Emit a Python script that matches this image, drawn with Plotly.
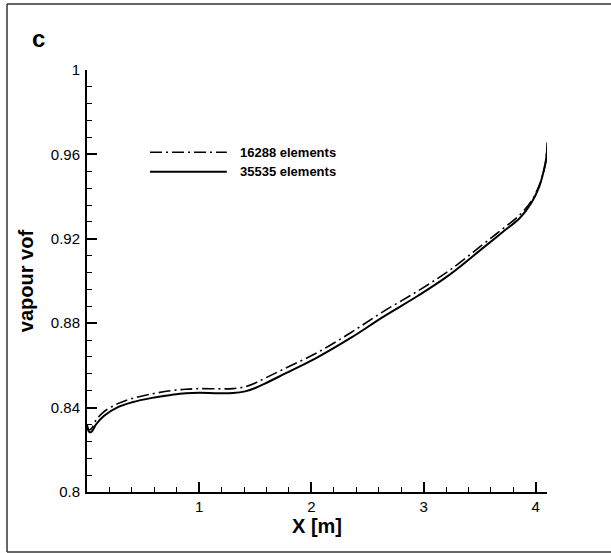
import plotly.graph_objects as go

# grid 35535 elements (solid) and 16288 elements (dash-dot)
x_fine = [0.0, 0.02, 0.04, 0.08, 0.15, 0.28, 0.40, 0.58, 0.75, 0.88, 1.00, 1.17, 1.30, 1.41,
          1.50, 1.59, 1.75, 2.05, 2.35, 2.64, 2.95, 3.23, 3.53, 3.70, 3.86, 3.96, 4.03, 4.07,
          4.09, 4.105]
vof_fine = [0.831, 0.8285, 0.8285, 0.832, 0.836, 0.8403, 0.8425, 0.8446, 0.846, 0.8468, 0.847,
            0.8468, 0.8469, 0.8477, 0.8493, 0.8515, 0.8557, 0.8637, 0.873, 0.883, 0.893, 0.9029,
            0.9157, 0.923, 0.930, 0.937, 0.9446, 0.952, 0.957, 0.9655]

x_coarse = x_fine
vof_coarse = [0.832, 0.8295, 0.830, 0.834, 0.838, 0.842, 0.8443, 0.8465, 0.848, 0.8487, 0.849,
              0.8489, 0.849, 0.8499, 0.8517, 0.854, 0.8582, 0.866, 0.8755, 0.8855, 0.8953, 0.905,
              0.9174, 0.9245, 0.9315, 0.9378, 0.9452, 0.952, 0.957, 0.966]

legend_labels = ["16288 elements", "35535 elements"]
y_ticks = [0.8, 0.84, 0.88, 0.92, 0.96, 1.0]
y_ticktext = ["0.8", "0.84", "0.88", "0.92", "0.96", "1"]
x_ticks = [1, 2, 3, 4]

dashdot = "12px,4px,2px,4px"

fig = go.Figure()
fig.add_trace(go.Scatter(x=x_coarse, y=vof_coarse, mode="lines", name=legend_labels[0],
                         line=dict(color="black", width=1.6, dash=dashdot, shape="spline"),
                         showlegend=False))
fig.add_trace(go.Scatter(x=x_fine, y=vof_fine, mode="lines", name=legend_labels[1],
                         line=dict(color="black", width=2, shape="spline"),
                         showlegend=False))

font = "Liberation Sans, Arial, sans-serif"
axis_common = dict(showline=True, linecolor="black", linewidth=2, ticks="inside",
                   tickcolor="black", tickwidth=2, ticklen=10, showgrid=False,
                   zeroline=False, tickfont=dict(family=font, size=15, color="black"))

fig.update_xaxes(range=[0, 4.1], tickvals=x_ticks,
                 title=dict(text="<b>X [m]</b>", font=dict(family=font, size=20, color="black"),
                            standoff=0),
                 minor=dict(ticks="inside", ticklen=5, tickwidth=1, tickcolor="black",
                            tick0=0, dtick=0.2),
                 **axis_common)
fig.update_yaxes(range=[0.8, 1.0], tickvals=y_ticks, ticktext=y_ticktext,
                 ticklabelstandoff=2,
                 title=dict(text="<b>vapour vof</b>", font=dict(family=font, size=20, color="black"),
                            standoff=12),
                 minor=dict(ticks="inside", ticklen=5, tickwidth=1, tickcolor="black",
                            tick0=0.8, dtick=0.008),
                 **axis_common)

# legend drawn by hand (long line samples)
fig.add_shape(type="line", xref="paper", yref="paper", x0=0.137, x1=0.304, y0=0.805, y1=0.805,
              line=dict(color="black", width=1.6, dash=dashdot))
fig.add_shape(type="line", xref="paper", yref="paper", x0=0.137, x1=0.304, y0=0.759, y1=0.759,
              line=dict(color="black", width=2))
for yy, lab in zip([0.805, 0.759], legend_labels):
    fig.add_annotation(x=0.328, y=yy, xref="paper", yref="paper", text="<b>%s</b>" % lab,
                       showarrow=False, xanchor="left", yanchor="middle",
                       font=dict(family=font, size=13, color="black"))

# panel letter and open frame (left, top, bottom)
fig.add_annotation(x=-0.1065, y=1.0735, xref="paper", yref="paper", text="<b>c</b>",
                   showarrow=False, xanchor="center", yanchor="middle",
                   font=dict(family=font, size=24, color="black"))
frame = dict(color="#333333", width=1.5)
fig.add_shape(type="line", xref="paper", yref="paper", x0=-0.1739, x1=-0.1739,
              y0=-0.1422, y1=1.1564, line=frame)
fig.add_shape(type="line", xref="paper", yref="paper", x0=-0.1739, x1=1.2,
              y0=1.1564, y1=1.1564, line=frame)
fig.add_shape(type="line", xref="paper", yref="paper", x0=-0.1739, x1=1.2,
              y0=-0.1422, y1=-0.1422, line=frame)

fig.update_layout(width=611, height=553, plot_bgcolor="white", paper_bgcolor="white",
                  margin=dict(l=87, r=64, t=70, b=61), showlegend=False)

# drop the default body margin so the figure fills the window exactly
fig.write_html("out.html", config={"displayModeBar": False},
               post_script="document.body.style.margin='0';document.body.style.overflow='hidden';")
